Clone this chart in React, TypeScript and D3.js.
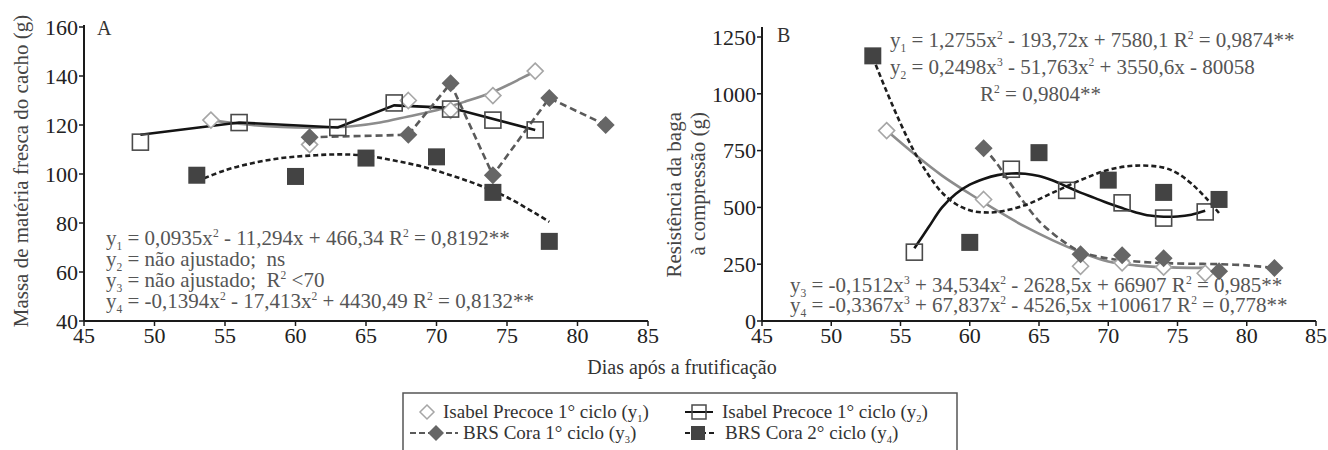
import React from 'react';
import * as d3 from 'd3';

const FONT = 'Liberation Serif, Times New Roman, DejaVu Serif, serif';

// ticks
const xTicks = [45, 50, 55, 60, 65, 70, 75, 80, 85];
const yTicksA = [40, 60, 80, 100, 120, 140, 160];
const yTicksB = [0, 250, 500, 750, 1000, 1250];

// Panel A: massa de matéria fresca do cacho (g)
const isabel1DaysA = [54, 61, 68, 71, 74, 77];
const isabel1MassA = [122, 112, 130, 126, 132, 142];
const isabel1FitXA = [54, 56, 58, 60, 62, 64, 66, 68, 70, 72, 74, 76, 77];
const isabel1FitYA = [122, 120.5, 119.5, 119, 119, 119.5, 121, 123.5, 126, 129.5, 133.5, 139, 142];

const isabel2DaysA = [49, 56, 63, 67, 71, 74, 77];
const isabel2MassA = [113, 121, 119, 129, 126.5, 122, 118];
const isabel2LineXA = [49, 56, 63, 67, 71, 77];
const isabel2LineYA = [116, 121, 119, 128, 127, 118];

const cora1DaysA = [61, 68, 71, 74, 78, 82];
const cora1MassA = [115, 116, 137, 99.5, 131, 120];

const cora2DaysA = [53, 60, 65, 70, 74, 78];
const cora2MassA = [99.5, 99, 106.5, 107, 92.5, 72.5];
const cora2FitXA = [53, 55, 57, 59, 61, 63, 65, 67, 69, 71, 73, 75, 77, 78];
const cora2FitYA = [97, 101.5, 104.5, 106.5, 107.5, 108, 107.5, 105.5, 103, 99.5, 95.5, 90.5, 84, 80.5];

// Panel B: resistência da baga à compressão (g)
const isabel1DaysB = [54, 61, 68, 71, 74, 77];
const isabel1ResB = [838, 535, 241, 256, 237, 210];
const isabel1FitXB = [54, 56, 58, 60, 62, 64, 66, 68, 70, 72, 74, 76, 77];
const isabel1FitYB = [838, 735, 640, 560, 485, 415, 355, 303, 262, 245, 237, 234, 235];

const isabel2DaysB = [56, 63, 67, 71, 74, 77];
const isabel2ResB = [303, 668, 575, 520, 453, 480];
const isabel2FitXB = [56, 57, 58, 59, 60, 61, 62, 63, 64, 65, 66, 67, 68, 69, 70, 71, 72, 73, 74, 75, 76, 77];
const isabel2FitYB = [320, 410, 500, 560, 600, 625, 642, 649, 648, 638, 618, 592, 565, 542, 518, 497, 478, 464, 459, 460, 468, 485];

const cora1DaysB = [61, 68, 71, 74, 78, 82];
const cora1ResB = [760, 294, 289, 276, 219, 233];
const cora1FitXB = [61, 62, 63, 64, 65, 66, 67, 68, 70, 72, 74, 76, 78, 80, 82];
const cora1FitYB = [765, 690, 600, 515, 440, 385, 340, 305, 275, 262, 255, 252, 250, 245, 233];

const cora2DaysB = [53, 60, 65, 70, 74, 78];
const cora2ResB = [1167, 346, 741, 620, 566, 535];
const cora2FitXB = [53, 54, 55, 56, 57, 58, 59, 60, 61, 62, 64, 66, 68, 70, 72, 74, 75, 76, 77, 78];
const cora2FitYB = [1160, 1010, 870, 745, 645, 565, 515, 487, 478, 480, 510, 565, 620, 665, 684, 675, 650, 605, 545, 475];

const eqsA = [
  'y_1 = 0,0935x^2 - 11,294x + 466,34 R^2 = 0,8192**',
  'y_2 = não ajustado;  ns',
  'y_3 = não ajustado;  R^2 <70',
  'y_4 = -0,1394x^2 - 17,413x^2 + 4430,49 R^2 = 0,8132**',
];
const eqsBTop = [
  'y_1 = 1,2755x^2 - 193,72x + 7580,1 R^2 = 0,9874**',
  'y_2 = 0,2498x^3 - 51,763x^2 + 3550,6x - 80058',
];
const eqBR2 = 'R^2 = 0,9804**';
const eqsBBottom = [
  'y_3 = -0,1512x^3 + 34,534x^2 - 2628,5x + 66907 R^2 = 0,985**',
  'y_4 = -0,3367x^3 + 67,837x^2 - 4526,5x +100617 R^2 = 0,778**',
];
const legendLabels = [
  'Isabel Precoce 1° ciclo (y_1)',
  'Isabel Precoce 1° ciclo (y_2)',
  'BRS Cora 1° ciclo (y_3)',
  'BRS Cora 2° ciclo (y_4)',
];

const zip = (xs: number[], ys: number[]) => xs.map((x, i) => [x, ys[i]] as [number, number]);

// text with _x subscripts and ^x superscripts
function Rich({ x, y, text, size, fill, anchor = 'start', transform }: any) {
  const parts: { t: string; k: string }[] = [];
  let buf = '';
  for (let i = 0; i < text.length; i++) {
    const c = text[i];
    if ((c === '_' || c === '^') && i + 1 < text.length) {
      if (buf) parts.push({ t: buf, k: 'n' });
      buf = '';
      parts.push({ t: text[i + 1], k: c === '_' ? 'sub' : 'sup' });
      i++;
    } else buf += c;
  }
  if (buf) parts.push({ t: buf, k: 'n' });
  let cur = 0;
  return (
    <text x={x} y={y} fontSize={size} fill={fill} textAnchor={anchor} transform={transform}
      style={{ whiteSpace: 'pre', fontFamily: FONT }}>
      {parts.map((p, j) => {
        const target = p.k === 'sub' ? size * 0.22 : p.k === 'sup' ? -size * 0.38 : 0;
        const dy = target - cur;
        cur = target;
        return <tspan key={j} dy={dy} fontSize={p.k === 'n' ? size : size * 0.55}>{p.t}</tspan>;
      })}
    </text>
  );
}

const diamond = (cx: number, cy: number, r: number) =>
  `M${cx},${cy - r}L${cx + r},${cy}L${cx},${cy + r}L${cx - r},${cy}Z`;

const C = {
  isabel1: '#8c8c8c',
  isabel1Mk: '#a6a6a6',
  isabel2: '#141414',
  isabel2Mk: '#4a4a4a',
  cora1: '#5a5a5a',
  cora1Mk: '#666666',
  cora2: '#1e1e1e',
  cora2Mk: '#434343',
  axis: '#1a1a1a',
  text: '#555555',
};

function Markers({ pts, x, y, kind }: any) {
  return (
    <g>
      {pts.map(([a, b]: [number, number], i: number) => {
        const cx = x(a), cy = y(b);
        if (kind === 'openDiamond')
          return <path key={i} d={diamond(cx, cy, 8)} fill="#fff" stroke={C.isabel1Mk} strokeWidth={1.6} />;
        if (kind === 'openSquare')
          return <rect key={i} x={cx - 8} y={cy - 8} width={16} height={16} fill="none" stroke={C.isabel2Mk} strokeWidth={1.6} />;
        if (kind === 'filledDiamond')
          return <path key={i} d={diamond(cx, cy, 9)} fill={C.cora1Mk} />;
        return <rect key={i} x={cx - 8.5} y={cy - 8.5} width={17} height={17} fill={C.cora2Mk} />;
      })}
    </g>
  );
}

function Axes({ x, y, yTicks, top }: any) {
  const [x0, x1] = x.range();
  const y0 = y.range()[0];
  return (
    <g fill="#222" style={{ fontFamily: FONT }}>
      <line x1={x0} x2={x0} y1={top} y2={y0} stroke={C.axis} strokeWidth={2} />
      <line x1={x0} x2={x1} y1={y0} y2={y0} stroke={C.axis} strokeWidth={2} />
      {yTicks.map((t: number) => (
        <g key={t}>
          <line x1={x0 - 5} x2={x0} y1={y(t)} y2={y(t)} stroke={C.axis} strokeWidth={1.5} />
          <text x={x0 - 6} y={y(t)} dy="0.35em" textAnchor="end" fontSize={22}>{t}</text>
        </g>
      ))}
      {xTicks.map((t) => (
        <g key={t}>
          <line x1={x(t)} x2={x(t)} y1={y0} y2={y0 + 5} stroke={C.axis} strokeWidth={1.5} />
          <text x={x(t)} y={343} textAnchor="middle" fontSize={22}>{t}</text>
        </g>
      ))}
    </g>
  );
}

export default function App() {
  const xA = d3.scaleLinear().domain([45, 85]).range([84, 648]);
  const yA = d3.scaleLinear().domain([40, 160]).range([321, 27]);
  const xB = d3.scaleLinear().domain([45, 85]).range([762, 1316]);
  const yB = d3.scaleLinear().domain([0, 1250]).range([321, 37]);

  const smooth = (x: any, y: any) => d3.line<[number, number]>().x((d) => x(d[0])).y((d) => y(d[1])).curve(d3.curveCatmullRom);
  const straight = (x: any, y: any) => d3.line<[number, number]>().x((d) => x(d[0])).y((d) => y(d[1]));

  const lw = 2.6;
  const ts = { fontFamily: FONT };

  return (
    <svg width={1328} height={450} style={{ position: 'absolute', left: 0, top: 0, background: '#fff', fontFamily: FONT }}>
      {/* Panel A */}
      <Axes x={xA} y={yA} yTicks={yTicksA} top={25} />
      <text x={97} y={35} fontSize={20} style={ts} fill="#333">A</text>
      <text transform="translate(28,171) rotate(-90)" textAnchor="middle" fontSize={21} style={ts} fill="#444">
        Massa de matéria fresca do cacho (g)
      </text>
      <path d={smooth(xA, yA)(zip(isabel1FitXA, isabel1FitYA)) || ''} fill="none" stroke={C.isabel1} strokeWidth={lw} />
      <path d={straight(xA, yA)(zip(isabel2LineXA, isabel2LineYA)) || ''} fill="none" stroke={C.isabel2} strokeWidth={lw} />
      <path d={straight(xA, yA)(zip(cora1DaysA, cora1MassA)) || ''} fill="none" stroke={C.cora1} strokeWidth={lw} strokeDasharray="7,4" />
      <path d={smooth(xA, yA)(zip(cora2FitXA, cora2FitYA)) || ''} fill="none" stroke={C.cora2} strokeWidth={lw} strokeDasharray="5,3" />
      <Markers pts={zip(isabel1DaysA, isabel1MassA)} x={xA} y={yA} kind="openDiamond" />
      <Markers pts={zip(isabel2DaysA, isabel2MassA)} x={xA} y={yA} kind="openSquare" />
      <Markers pts={zip(cora1DaysA, cora1MassA)} x={xA} y={yA} kind="filledDiamond" />
      <Markers pts={zip(cora2DaysA, cora2MassA)} x={xA} y={yA} kind="filledSquare" />
      {eqsA.map((t, i) => (
        <Rich key={i} x={106} y={245 + i * 21} text={t} size={21} fill={C.text} />
      ))}

      {/* Panel B */}
      <Axes x={xB} y={yB} yTicks={yTicksB} top={27} />
      <text x={777} y={42} fontSize={20} style={ts} fill="#333">B</text>
      <text transform="translate(681,112) rotate(-90)" textAnchor="end" fontSize={21} style={ts} fill="#444">
        Resistência da baga
      </text>
      <text transform="translate(705,112) rotate(-90)" textAnchor="end" fontSize={21} style={ts} fill="#444">
        à compressão (g)
      </text>
      <path d={smooth(xB, yB)(zip(isabel1FitXB, isabel1FitYB)) || ''} fill="none" stroke={C.isabel1} strokeWidth={lw} />
      <path d={smooth(xB, yB)(zip(isabel2FitXB, isabel2FitYB)) || ''} fill="none" stroke={C.isabel2} strokeWidth={lw} />
      <path d={smooth(xB, yB)(zip(cora1FitXB, cora1FitYB)) || ''} fill="none" stroke={C.cora1} strokeWidth={lw} strokeDasharray="7,4" />
      <path d={smooth(xB, yB)(zip(cora2FitXB, cora2FitYB)) || ''} fill="none" stroke={C.cora2} strokeWidth={lw} strokeDasharray="5,3" />
      <Markers pts={zip(isabel1DaysB, isabel1ResB)} x={xB} y={yB} kind="openDiamond" />
      <Markers pts={zip(isabel2DaysB, isabel2ResB)} x={xB} y={yB} kind="openSquare" />
      <Markers pts={zip(cora1DaysB, cora1ResB)} x={xB} y={yB} kind="filledDiamond" />
      <Markers pts={zip(cora2DaysB, cora2ResB)} x={xB} y={yB} kind="filledSquare" />
      {eqsBTop.map((t, i) => (
        <Rich key={i} x={890} y={47 + i * 27} text={t} size={21} fill={C.text} />
      ))}
      <Rich x={980} y={101} text={eqBR2} size={21} fill={C.text} />
      {eqsBBottom.map((t, i) => (
        <Rich key={i} x={790} y={292 + i * 20} text={t} size={21} fill={C.text} />
      ))}

      {/* x title */}
      <text x={682} y={374} textAnchor="middle" fontSize={20} style={ts} fill="#333">
        Dias após a frutificação
      </text>

      {/* legend */}
      <rect x={403} y={393} width={554} height={70} fill="none" stroke="#555" strokeWidth={1.5} />
      <path d={diamond(427, 412, 7)} fill="#fff" stroke={C.isabel1Mk} strokeWidth={1.5} />
      <Rich x={443} y={418} text={legendLabels[0]} size={19} fill="#333" />
      <line x1={685} x2={713} y1={412} y2={412} stroke={C.isabel2} strokeWidth={2} />
      <rect x={692} y={405} width={14} height={14} fill="none" stroke={C.isabel2Mk} strokeWidth={1.5} />
      <Rich x={722} y={418} text={legendLabels[1]} size={19} fill="#333" />
      <line x1={410} x2={458} y1={433} y2={433} stroke={C.cora1} strokeWidth={2} strokeDasharray="6,3" />
      <path d={diamond(436, 433, 8)} fill={C.cora1Mk} />
      <Rich x={463} y={439} text={legendLabels[2]} size={19} fill="#333" />
      <line x1={685} x2={716} y1={433} y2={433} stroke={C.cora2} strokeWidth={2} strokeDasharray="5,3" />
      <rect x={691} y={426} width={14} height={14} fill={C.cora2Mk} />
      <Rich x={725} y={439} text={legendLabels[3]} size={19} fill="#333" />
    </svg>
  );
}
